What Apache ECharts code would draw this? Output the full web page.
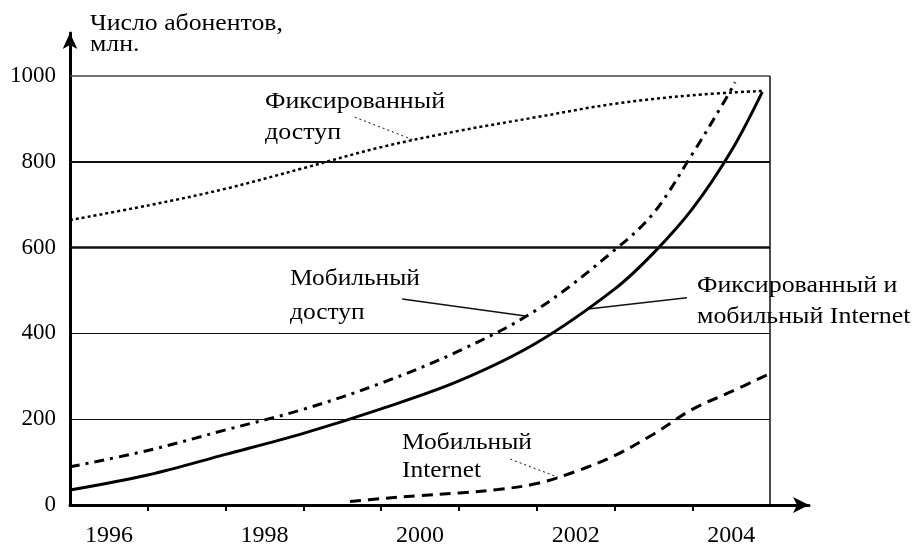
<!DOCTYPE html>
<html>
<head>
<meta charset="utf-8">
<script src="https://cdn.jsdelivr.net/npm/echarts@6/dist/echarts.min.js"></script>
<style>html,body{margin:0;padding:0;background:#fff}#c{width:915px;height:549px}</style>
</head>
<body>
<div id="c"></div>
<script>
// ---- data ----
const fixedYears   = [1996, 1997, 1998, 1999, 2000, 2001, 2002, 2003, 2004, 2004.9];
const fixedAccess  = [664, 698, 737, 785, 834, 872, 904, 935, 955, 965];

const mobileYears  = [1996, 1997, 1998, 1999, 2000, 2001, 2002, 2003, 2003.5, 2004, 2004.4, 2004.55];
const mobileAccess = [89, 127, 175, 223, 284, 359, 455, 594, 680, 818, 937, 985];

const inetYears    = [1996, 1997, 1998, 1999, 2000, 2001, 2002, 2003, 2003.5, 2004, 2004.5, 2004.9];
const inetAll      = [35, 70, 118, 167, 224, 289, 378, 503, 587, 690, 825, 963];

const mobInetYears = [1999.6, 2000, 2000.5, 2001, 2001.5, 2002, 2002.5, 2003, 2003.5, 2004, 2004.5, 2004.97];
const mobInet      = [8, 15, 22, 28, 36, 50, 78, 115, 165, 223, 264, 304];

const yTickLabels  = [0, 200, 400, 600, 800, 1000];
const gridValues   = [200, 400, 600, 800, 1000];
const xLabelYears  = [1996, 1998, 2000, 2002, 2004];
const xTickYears   = [1997, 1998, 1999, 2000, 2001, 2002, 2003, 2004];
const xStart = 1996, xEnd = 2005;

// leader lines (data coordinates): [from, to]
const leadFixed   = [[1999.66, 904], [2000.41, 851]];
const leadMobile  = [[2000.27, 480], [2001.88, 440]];
const leadInet    = [[2003.93, 483], [2002.66, 457]];
const leadMobInet = [[2001.66, 107], [2002.27, 65]];

// ---- build ----
const zip = (xs, ys) => xs.map((x, i) => [x, ys[i]]);
const FONT = 'Liberation Serif';
const gridW = {200: 1, 400: 1, 600: 2.5, 800: 2, 1000: 1.6};

const gridLines = gridValues.map(v => [
  {coord: [xStart, v], lineStyle: {type: 'solid', width: gridW[v], color: v === 1000 ? '#444' : '#111'}},
  {coord: [xEnd, v]}
]);
gridLines.push([{coord: [xEnd, 0], lineStyle: {type: 'solid', width: 1.5, color: '#111'}}, {coord: [xEnd, 1000]}]);

function lead(pair, type, width) {
  return [{coord: pair[0], lineStyle: {type: type, width: width, color: '#111'}}, {coord: pair[1]}];
}
function txt(left, top, text, size, lh, sx) {
  return {type: 'text', left: left, top: top, scaleX: sx, originX: 0,
    style: {text: text, font: size + 'px "Liberation Serif"', fill: '#000', lineHeight: lh}};
}

const chart = echarts.init(document.getElementById('c'), null, {renderer: 'canvas'});
chart.setOption({
  animation: false,
  backgroundColor: '#fff',
  grid: {left: 70, right: 106, top: 33, bottom: 44, containLabel: false},
  xAxis: {
    type: 'value', min: xStart, max: 2005.5,
    axisLine: {show: true, symbol: ['none', 'arrow'], symbolSize: [12, 16], lineStyle: {color: '#000', width: 3}},
    axisTick: {show: true, customValues: xTickYears, length: 6, lineStyle: {color: '#000', width: 2}},
    axisLabel: {customValues: xLabelYears.map(y => y + 0.5), formatter: v => String(Math.floor(v)),
      fontFamily: FONT, fontSize: 24, color: '#000', margin: 19},
    splitLine: {show: false}
  },
  yAxis: {
    type: 'value', min: 0, max: 1100, interval: 100,
    axisLine: {show: true, symbol: ['none', 'arrow'], symbolSize: [11, 16], lineStyle: {color: '#000', width: 3}},
    axisTick: {show: false},
    axisLabel: {customValues: yTickLabels, formatter: v => String(v), fontFamily: FONT, fontSize: 23, color: '#000', margin: 14},
    splitLine: {show: false}
  },
  graphic: [
    txt(90, 12, 'Число абонентов,\nмлн.', 23, 21, 1.12),
    txt(265, 86, 'Фиксированный\nдоступ', 24, 31, 1.08),
    txt(290, 262, 'Мобильный\nдоступ', 24, 34, 1.06),
    txt(697, 270, 'Фиксированный и\nмобильный Internet', 24, 31, 1.08),
    txt(402, 429, 'Мобильный\nInternet', 24, 28, 1.06)
  ],
  series: [
    {
      name: 'Фиксированный доступ', type: 'line', data: zip(fixedYears, fixedAccess),
      smooth: 0.35, symbol: 'none', lineStyle: {color: '#000', width: 2.5, type: [3, 3]},
      markLine: {silent: true, symbol: 'none', label: {show: false}, animation: false,
        data: gridLines.concat([lead(leadFixed, [2, 3], 1)])}
    },
    {
      name: 'Мобильный доступ', type: 'line', data: zip(mobileYears, mobileAccess),
      smooth: 0.35, symbol: 'none', lineStyle: {color: '#000', width: 3, type: [10, 6, 3, 6]},
      markLine: {silent: true, symbol: 'none', label: {show: false}, data: [lead(leadMobile, 'solid', 1.5)]}
    },
    {
      name: 'Фиксированный и мобильный Internet', type: 'line', data: zip(inetYears, inetAll),
      smooth: 0.35, symbol: 'none', lineStyle: {color: '#000', width: 3, type: 'solid'},
      markLine: {silent: true, symbol: 'none', label: {show: false}, data: [lead(leadInet, 'solid', 1.5)]}
    },
    {
      name: 'Мобильный Internet', type: 'line', data: zip(mobInetYears, mobInet),
      smooth: 0.35, symbol: 'none', lineStyle: {color: '#000', width: 3, type: [11, 7]},
      markLine: {silent: true, symbol: 'none', label: {show: false}, data: [lead(leadMobInet, [2, 3], 1)]}
    }
  ]
});
</script>
</body>
</html>
